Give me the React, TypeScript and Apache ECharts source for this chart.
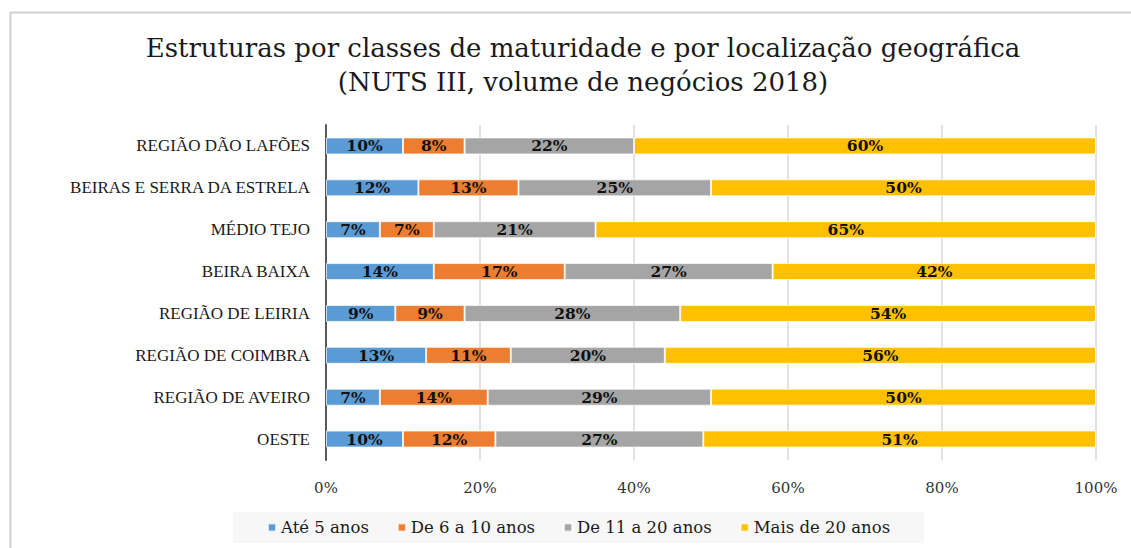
import React, { useEffect, useRef } from "react";
import * as echarts from "echarts";

const categories = [
  "REGIÃO DÃO LAFÕES",
  "BEIRAS E SERRA DA ESTRELA",
  "MÉDIO TEJO",
  "BEIRA BAIXA",
  "REGIÃO DE LEIRIA",
  "REGIÃO DE COIMBRA",
  "REGIÃO DE AVEIRO",
  "OESTE",
];
const seriesNames = ["Até 5 anos", "De 6 a 10 anos", "De 11 a 20 anos", "Mais de 20 anos"];
const ate5 = [10, 12, 7, 14, 9, 13, 7, 10];
const de6a10 = [8, 13, 7, 17, 9, 11, 14, 12];
const de11a20 = [22, 25, 21, 27, 28, 20, 29, 27];
const mais20 = [60, 50, 65, 42, 54, 56, 50, 51];
const colors = ["#5B9BD5", "#ED7D31", "#A5A5A5", "#FFC000"];

const SERIF = "DejaVu Serif";
const SERIF2 = "Liberation Serif";

export default function App() {
  const ref = useRef<HTMLDivElement>(null);
  useEffect(() => {
    document.body.style.margin = "0";
    const chart = echarts.init(ref.current!, null, { renderer: "svg" });
    const data = [ate5, de6a10, de11a20, mais20];
    chart.setOption({
      animation: false,
      backgroundColor: "#ffffff",
      color: colors,
      textStyle: { fontFamily: SERIF },
      title: {
        text: "Estruturas por classes de maturidade e por localização geográfica\n(NUTS III, volume de negócios 2018)",
        left: 578,
        textAlign: "center",
        top: 26,
        textStyle: {
          fontFamily: SERIF,
          fontWeight: "normal",
          fontSize: 26,
          lineHeight: 34,
          color: "#1a1a1a",
        },
      },
      graphic: [
        {
          type: "rect",
          shape: { x: 10.5, y: 12.5, width: 1140, height: 560 },
          style: { fill: "none", stroke: "#d0d0d0", lineWidth: 2 },
          silent: true,
        },
      ],
      legend: {
        bottom: 5,
        left: 233,
        data: seriesNames,
        itemWidth: 8,
        itemHeight: 8,
        itemGap: 28,
        icon: "rect",
        backgroundColor: "#f7f7f7",
        padding: [7, 34, 7, 34],
        textStyle: { fontFamily: SERIF, fontSize: 16.5, color: "#1a1a1a" },
      },
      grid: { left: 326, right: 35, top: 125, bottom: 88, containLabel: false },
      xAxis: {
        type: "value",
        min: 0,
        max: 100,
        interval: 20,
        axisLabel: {
          formatter: "{value}%",
          fontFamily: SERIF,
          fontSize: 15,
          color: "#333",
          margin: 20,
        },
        axisLine: { show: false },
        axisTick: { show: false },
        splitLine: { show: true, lineStyle: { color: "#d9d9d9", width: 1.5 } },
      },
      yAxis: {
        type: "category",
        inverse: true,
        data: categories,
        axisLine: { show: true, lineStyle: { color: "#595959", width: 2 } },
        axisTick: { show: false },
        axisLabel: {
          fontFamily: SERIF2,
          fontSize: 17,
          color: "#1a1a1a",
          margin: 16,
        },
      },
      series: seriesNames.map((name, i) => ({
        name,
        type: "bar",
        stack: "total",
        barWidth: 17,
        data: data[i],
        itemStyle: { color: colors[i], borderColor: "rgba(255,255,255,0.7)", borderWidth: 1 },
        label: {
          show: true,
          position: "inside",
          formatter: "{c}%",
          fontFamily: SERIF,
          fontWeight: "bold",
          fontSize: 15.5,
          color: "#111",
        },
      })),
    });
    return () => chart.dispose();
  }, []);
  return <div ref={ref} style={{ width: 1131, height: 548 }} />;
}
